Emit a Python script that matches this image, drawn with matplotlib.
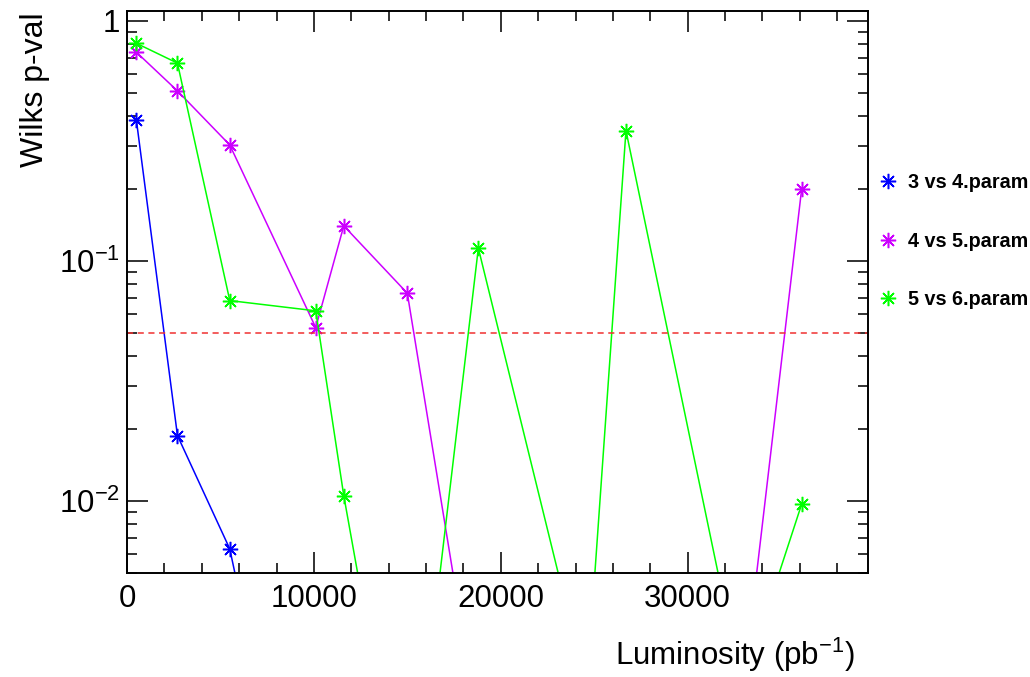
import matplotlib
matplotlib.use("Agg")
import matplotlib.pyplot as plt
from matplotlib.lines import Line2D
from matplotlib.ticker import FixedLocator, MultipleLocator, NullFormatter
import numpy as np

plt.rcParams['font.family'] = ['Liberation Sans', 'DejaVu Sans']
plt.rcParams['mathtext.fontset'] = 'custom'
plt.rcParams['mathtext.rm'] = 'Liberation Sans'
plt.rcParams['mathtext.it'] = 'Liberation Sans:italic'
plt.rcParams['mathtext.bf'] = 'Liberation Sans:bold'

# ---- data ----
lumi_34 = [500, 2700, 5500, 10100]
pval_34 = [0.387, 0.0187, 0.0063, 0.00013]

lumi_45 = [500, 2700, 5500, 10100, 11600, 15000, 18800, 26700, 32900, 36100]
pval_45 = [0.741, 0.511, 0.304, 0.0527, 0.140, 0.0733, 0.00112, 0.0005, 0.00148, 0.199]

lumi_56 = [500, 2700, 5500, 10100, 11600, 15000, 18800, 24600, 26700, 32900, 36100]
pval_56 = [0.807, 0.667, 0.0683, 0.0619, 0.0105, 0.00035, 0.113, 0.00164, 0.349, 0.00167, 0.00968]

labels = ["3 vs 4.param", "4 vs 5.param", "5 vs 6.param"]
colors = ["#0000ff", "#cc00ff", "#00ff00"]
threshold = 0.05

x_ticks = [0, 10000, 20000, 30000]
y_ticks = [0.01, 0.1, 1]
y_ticklabels = [r"$10^{-2}$", r"$10^{-1}$", "1"]

fig = plt.figure(figsize=(10.30, 6.77), dpi=100)
ax = fig.add_axes([0.1233, 0.1536, 0.8427 - 0.1233, 0.98375 - 0.1536])

marker = (8, 2, 0)
series = [(lumi_34, pval_34), (lumi_45, pval_45), (lumi_56, pval_56)]
handles = []
for (xs, ys), c, lab in zip(series, colors, labels):
    ax.plot(xs, ys, color=c, lw=1.1, marker=marker, ms=11, mew=1.1)
    handles.append(Line2D([], [], ls='none', color=c, marker=marker, ms=11, mew=1.1, label=lab))

ax.axhline(threshold, color="#f03030", lw=1.1, ls=(0, (4, 3)))

ax.set_yscale('log')
ax.set_xlim(0, 39650)
ax.set_ylim(0.005, 1.1)

ax.xaxis.set_major_locator(FixedLocator(x_ticks))
ax.xaxis.set_minor_locator(MultipleLocator(2000))
ax.set_yticks(y_ticks)
ax.set_yticklabels(y_ticklabels)
ax.yaxis.set_minor_locator(FixedLocator(
    [m * 10.0 ** e for e in (-3, -2, -1) for m in range(2, 10)]))
ax.yaxis.set_minor_formatter(NullFormatter())

ax.tick_params(which='both', direction='in', top=True, right=True, width=1.3, colors='#222222')
ax.tick_params(which='major', length=15)
ax.tick_params(which='minor', length=7.5)
ax.tick_params(axis='x', which='major', labelsize=22.5, pad=8, labelcolor='black')
ax.tick_params(axis='y', which='major', labelsize=22.5, pad=5, labelcolor='black')
for s in ax.spines.values():
    s.set_linewidth(1.4)
    s.set_color('black')

fig.text(855 / 1030, 1 - 655 / 677, r"Luminosity (pb$^{-1}$)", ha='right', va='center', fontsize=22.5)
fig.text(35 / 1030, 1 - 12 / 677, "Wilks p-val", rotation=90, ha='center', va='top', fontsize=23)

leg = fig.legend(handles=handles, loc='center left', bbox_to_anchor=(878 / 1030, 1 - 241 / 677),
                 frameon=False, fontsize=14.2, handlelength=1.0, handletextpad=0.5,
                 borderpad=0, borderaxespad=0, labelspacing=2.0)
for t in leg.get_texts():
    t.set_fontweight('bold')

fig.savefig("out.png", dpi=100)
